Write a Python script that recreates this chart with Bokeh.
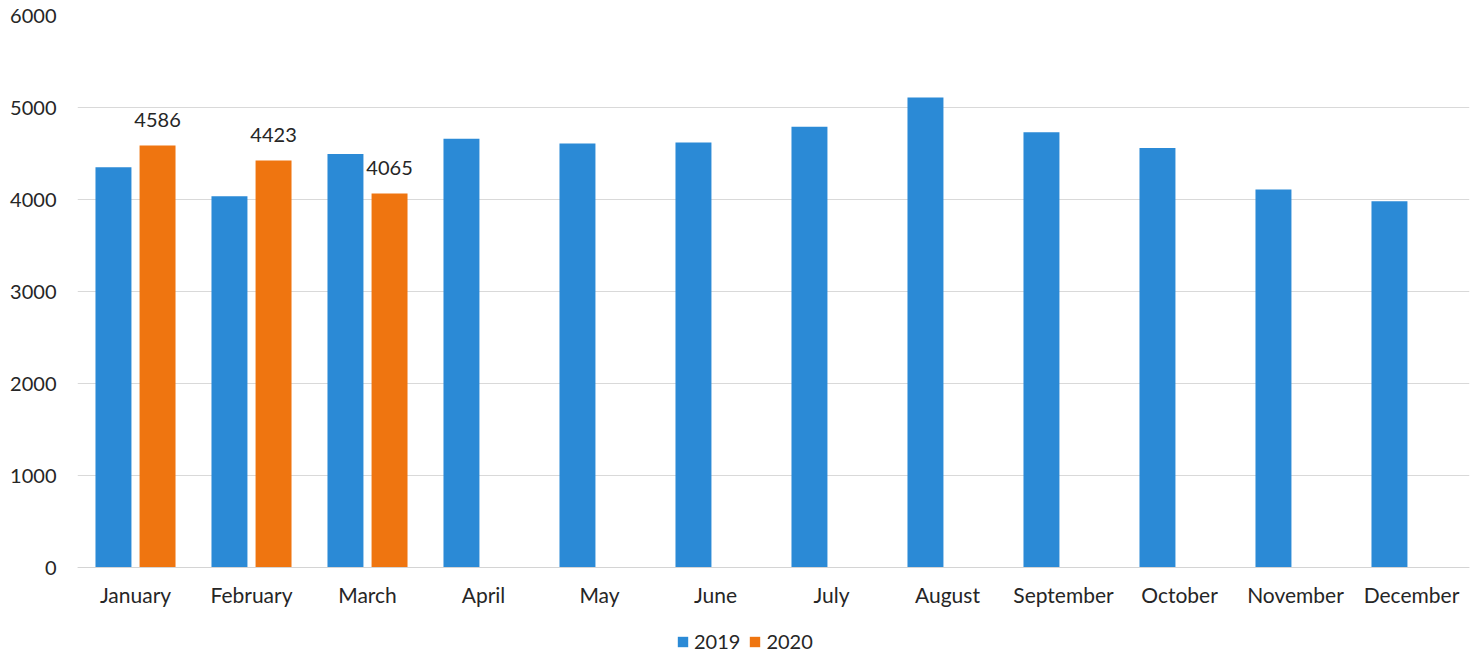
from bokeh.plotting import figure
from bokeh.models import ColumnDataSource, FactorRange, Range1d, Legend, LegendItem
from bokeh.transform import dodge
from bokeh.core.properties import value
from bokeh.embed import file_html
from bokeh.resources import INLINE

months = ["January", "February", "March", "April", "May", "June", "July",
          "August", "September", "October", "November", "December"]
values_2019 = [4350, 4035, 4495, 4660, 4610, 4620, 4790, 5110, 4730, 4560, 4110, 3980]
months_2020 = ["January", "February", "March"]
values_2020 = [4586, 4423, 4065]
labels_2020 = [str(v) for v in values_2020]
series_names = ["2019", "2020"]
y_ticks = [0, 1000, 2000, 3000, 4000, 5000, 6000]

BLUE = "#2b8ad6"
ORANGE = "#ef7510"
FONT = "Lato"
TEXT = "#262626"

src19 = ColumnDataSource(dict(month=months, val=values_2019))
src20 = ColumnDataSource(dict(month=months_2020, val=values_2020, lab=labels_2020))

# y range extends below zero so the legend area lies inside the frame
p = figure(x_range=FactorRange(*months, range_padding=0), y_range=Range1d(-967, 6000),
           frame_width=1392, frame_height=641, min_border_left=77, min_border_right=2,
           min_border_top=15, min_border_bottom=0,
           output_backend="svg", toolbar_location=None)
p.outline_line_color = None
p.background_fill_color = "white"

r19 = p.vbar(x=dodge("month", -0.19, range=p.x_range), top="val", width=0.31,
             source=src19, fill_color=BLUE, line_color=None)
r20 = p.vbar(x=dodge("month", 0.19, range=p.x_range), top="val", width=0.31,
             source=src20, fill_color=ORANGE, line_color=None)
p.text(x=dodge("month", 0.19, range=p.x_range), y="val", text="lab", source=src20,
       text_align="center", text_baseline="bottom", y_offset=-19,
       text_font=value(FONT), text_font_size="20px", text_color=TEXT)

p.xgrid.grid_line_color = None
p.ygrid.grid_line_color = "#d9d9d9"
p.ygrid.ticker = y_ticks

p.yaxis.ticker = y_ticks
p.yaxis.axis_line_color = None
p.yaxis.major_tick_line_color = None
p.yaxis.minor_tick_line_color = None
p.yaxis.major_label_standoff = 15
p.yaxis.major_label_text_font = FONT
p.yaxis.major_label_text_font_size = "20px"
p.yaxis.major_label_text_color = TEXT

p.xaxis.fixed_location = 0
p.xaxis.axis_line_color = "#d4d4d4"
p.xaxis.major_tick_line_color = None
p.xaxis.minor_tick_line_color = None
p.xaxis.major_label_standoff = 8
p.xaxis.major_label_text_font = FONT
p.xaxis.major_label_text_font_size = "21px"
p.xaxis.major_label_text_color = TEXT

legend = Legend(items=[LegendItem(label=series_names[0], renderers=[r19]),
                       LegendItem(label=series_names[1], renderers=[r20])],
                orientation="horizontal", location=(599, 3),
                glyph_width=13, glyph_height=13, label_standoff=5, spacing=8,
                padding=0, margin=0, border_line_color=None, background_fill_alpha=0,
                label_text_font=FONT, label_text_font_size="20px", label_text_color=TEXT)
p.add_layout(legend, "center")

open("out.html", "w").write(file_html(p, INLINE))
